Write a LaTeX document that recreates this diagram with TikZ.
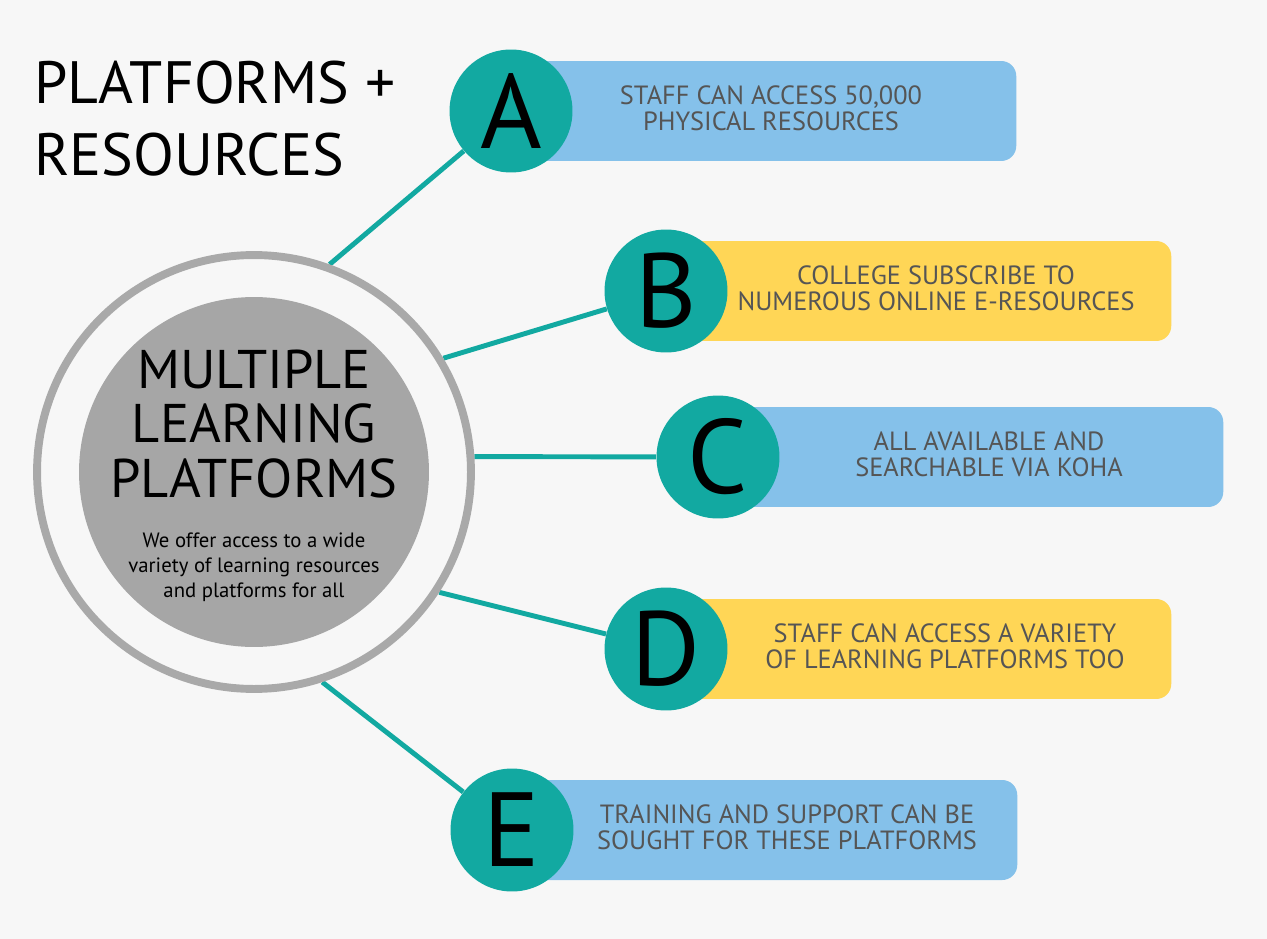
\documentclass[tikz,border=0pt]{standalone}
\usepackage{fontspec}
\setmainfont{PT Sans}
\usetikzlibrary{backgrounds}

\definecolor{bgcol}{HTML}{F7F7F7}
\definecolor{tealcol}{HTML}{12A9A1}
\definecolor{bluecol}{HTML}{85C1EA}
\definecolor{yellowcol}{HTML}{FFD656}
\definecolor{ringcol}{HTML}{A9A9A9}
\definecolor{diskcol}{HTML}{A6A6A6}
\definecolor{textcol}{HTML}{555555}

\begin{document}
\begin{tikzpicture}[x=0.02cm,y=-0.02cm,
    letter/.style={circle,fill=tealcol,minimum size=2.46cm,inner sep=0pt,
      font=\fontsize{60}{60}\selectfont},
    infobox/.style={rectangle,rounded corners=0.3cm,minimum width=10.1cm,
      minimum height=2cm,anchor=west,inner sep=0pt},
    infotext/.style={align=center,text=textcol,
      font=\fontsize{15}{14.7}\selectfont},
    link/.style={draw=tealcol,line width=2.8pt}]

  % Title
  \node[anchor=north west,align=left,inner sep=0pt,
    font=\fontsize{34}{40.5}\selectfont] (title) at (34,61)
    {PLATFORMS +\\RESOURCES};

  % Hub
  \node[circle,draw=ringcol,line width=4.5pt,fill=bgcol,
    minimum size=8.68cm,inner sep=0pt] (hub) at (254,472) {};
  \node[circle,fill=diskcol,minimum size=7cm,inner sep=0pt] (disk) at (254,472) {};
  \node[align=center,font=\fontsize{31}{31.2}\selectfont] (hubtitle)
    at (254,424) {MULTIPLE\\LEARNING\\PLATFORMS};
  \node[align=center,font=\fontsize{11.8}{14.2}\selectfont] (hubtext)
    at (254,567) {We offer access to a wide\\variety of learning resources\\and platforms for all};

  % Letters and boxes
  \node[infobox,fill=bluecol] (boxa) at (511,111) {};
  \node[letter] (a) at (511,111) {A};
  \node[infotext] (texta) at (771,108) {STAFF CAN ACCESS 50,000\\PHYSICAL RESOURCES};

  \node[infobox,fill=yellowcol] (boxb) at (666,291) {};
  \node[letter] (b) at (666,291) {B};
  \node[infotext] (textb) at (936,288) {COLLEGE SUBSCRIBE TO\\NUMEROUS ONLINE E-RESOURCES};

  \node[infobox,fill=bluecol] (boxc) at (718,457) {};
  \node[letter] (c) at (718,457) {C};
  \node[infotext] (textc) at (989,454) {ALL AVAILABLE AND\\SEARCHABLE VIA KOHA};

  \node[infobox,fill=yellowcol] (boxd) at (666,649) {};
  \node[letter] (d) at (666,649) {D};
  \node[infotext] (textd) at (945,646) {STAFF CAN ACCESS A VARIETY\\OF LEARNING PLATFORMS TOO};

  \node[infobox,fill=bluecol] (boxe) at (512,830) {};
  \node[letter] (e) at (512,830) {E};
  \node[infotext] (texte) at (787,827) {TRAINING AND SUPPORT CAN BE\\SOUGHT FOR THESE PLATFORMS};

  % Background and links
  \begin{scope}[on background layer]
    \fill[bgcol] (0,0) rectangle (1267,939);
    \draw[link] (hub.70) -- (a);
    \draw[link] (hub.31) -- (b);
    \draw[link] (hub.4) -- (c);
    \draw[link] (hub.-33) -- (d);
    \draw[link] (hub.-72) -- (e);
  \end{scope}
\end{tikzpicture}
\end{document}
